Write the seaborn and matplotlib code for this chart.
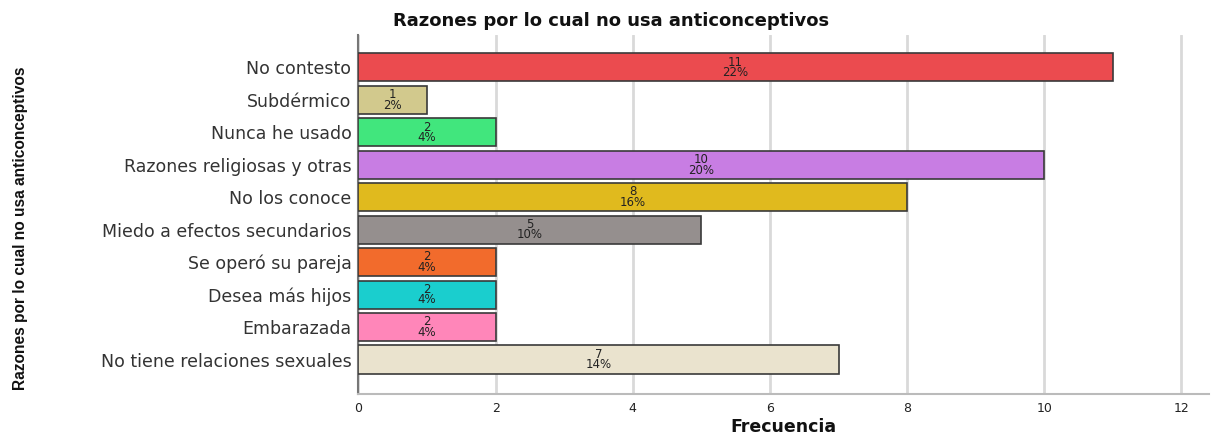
import matplotlib
matplotlib.use("Agg")
import pandas as pd
import matplotlib.pyplot as plt
import seaborn as sns

razones = ["No contesto", "Subdérmico", "Nunca he usado", "Razones religiosas y otras",
           "No los conoce", "Miedo a efectos secundarios", "Se operó su pareja",
           "Desea más hijos", "Embarazada", "No tiene relaciones sexuales"]
frecuencia = [11, 1, 2, 10, 8, 5, 2, 2, 2, 7]
colores = ["#EB4B4F", "#D2C98D", "#41E67D", "#C87DE3", "#E0BA1E",
           "#958F8E", "#F26B2C", "#1ACECE", "#FF86B9", "#EAE3CE"]

df = pd.DataFrame({"Razon": razones, "Frecuencia": frecuencia})
total = df["Frecuencia"].sum()

sns.set_theme(style="white")
plt.rcParams['font.family'] = ['DejaVu Sans']

fig, ax = plt.subplots(figsize=(12.15, 4.36), dpi=100)
sns.barplot(data=df, y="Razon", x="Frecuencia", hue="Razon", palette=colores,
            saturation=1, legend=False, width=0.87, edgecolor="#3a3a3a",
            linewidth=1.2, ax=ax, zorder=3)

# count and percent inside each bar
for i, v in enumerate(frecuencia):
    ax.text(v / 2, i, f"{v}\n{v / total * 100:.0f}%", ha="center", va="center",
            fontsize=8.5, linespacing=0.75, color="#222222", zorder=4)

ax.set_xlim(0, 12.4)
ax.set_ylim(10.05, -1.0)
ax.set_xticks([0, 2, 4, 6, 8, 10, 12])
ax.xaxis.grid(True, color="#d9d9d9", linewidth=2, zorder=0)
ax.tick_params(axis="y", labelsize=12.5, pad=5, length=0, labelcolor="#333333")
ax.tick_params(axis="x", labelsize=9, length=0, pad=6, labelcolor="#222222")

for s in ["top", "right"]:
    ax.spines[s].set_visible(False)
ax.spines["left"].set_color("#777777")
ax.spines["left"].set_linewidth(1.5)
ax.spines["bottom"].set_color("#bbbbbb")
ax.spines["bottom"].set_linewidth(1.5)

ax.set_xlabel("Frecuencia", fontsize=12.5, fontweight="bold", labelpad=2, color="#111111")
ax.set_ylabel("")
fig.text(0.017, 0.477, "Razones por lo cual no usa anticonceptivos", rotation=90,
         ha="center", va="center", fontsize=11.2, fontweight="bold", color="#111111",
         family=['Liberation Sans'])
fig.text(0.503, 0.952, "Razones por lo cual no usa anticonceptivos", ha="center",
         va="center", fontsize=13, fontweight="bold", color="#111111")

plt.subplots_adjust(left=0.295, right=0.995, top=0.92, bottom=0.097)
plt.savefig("out.png", dpi=100)
plt.close()
